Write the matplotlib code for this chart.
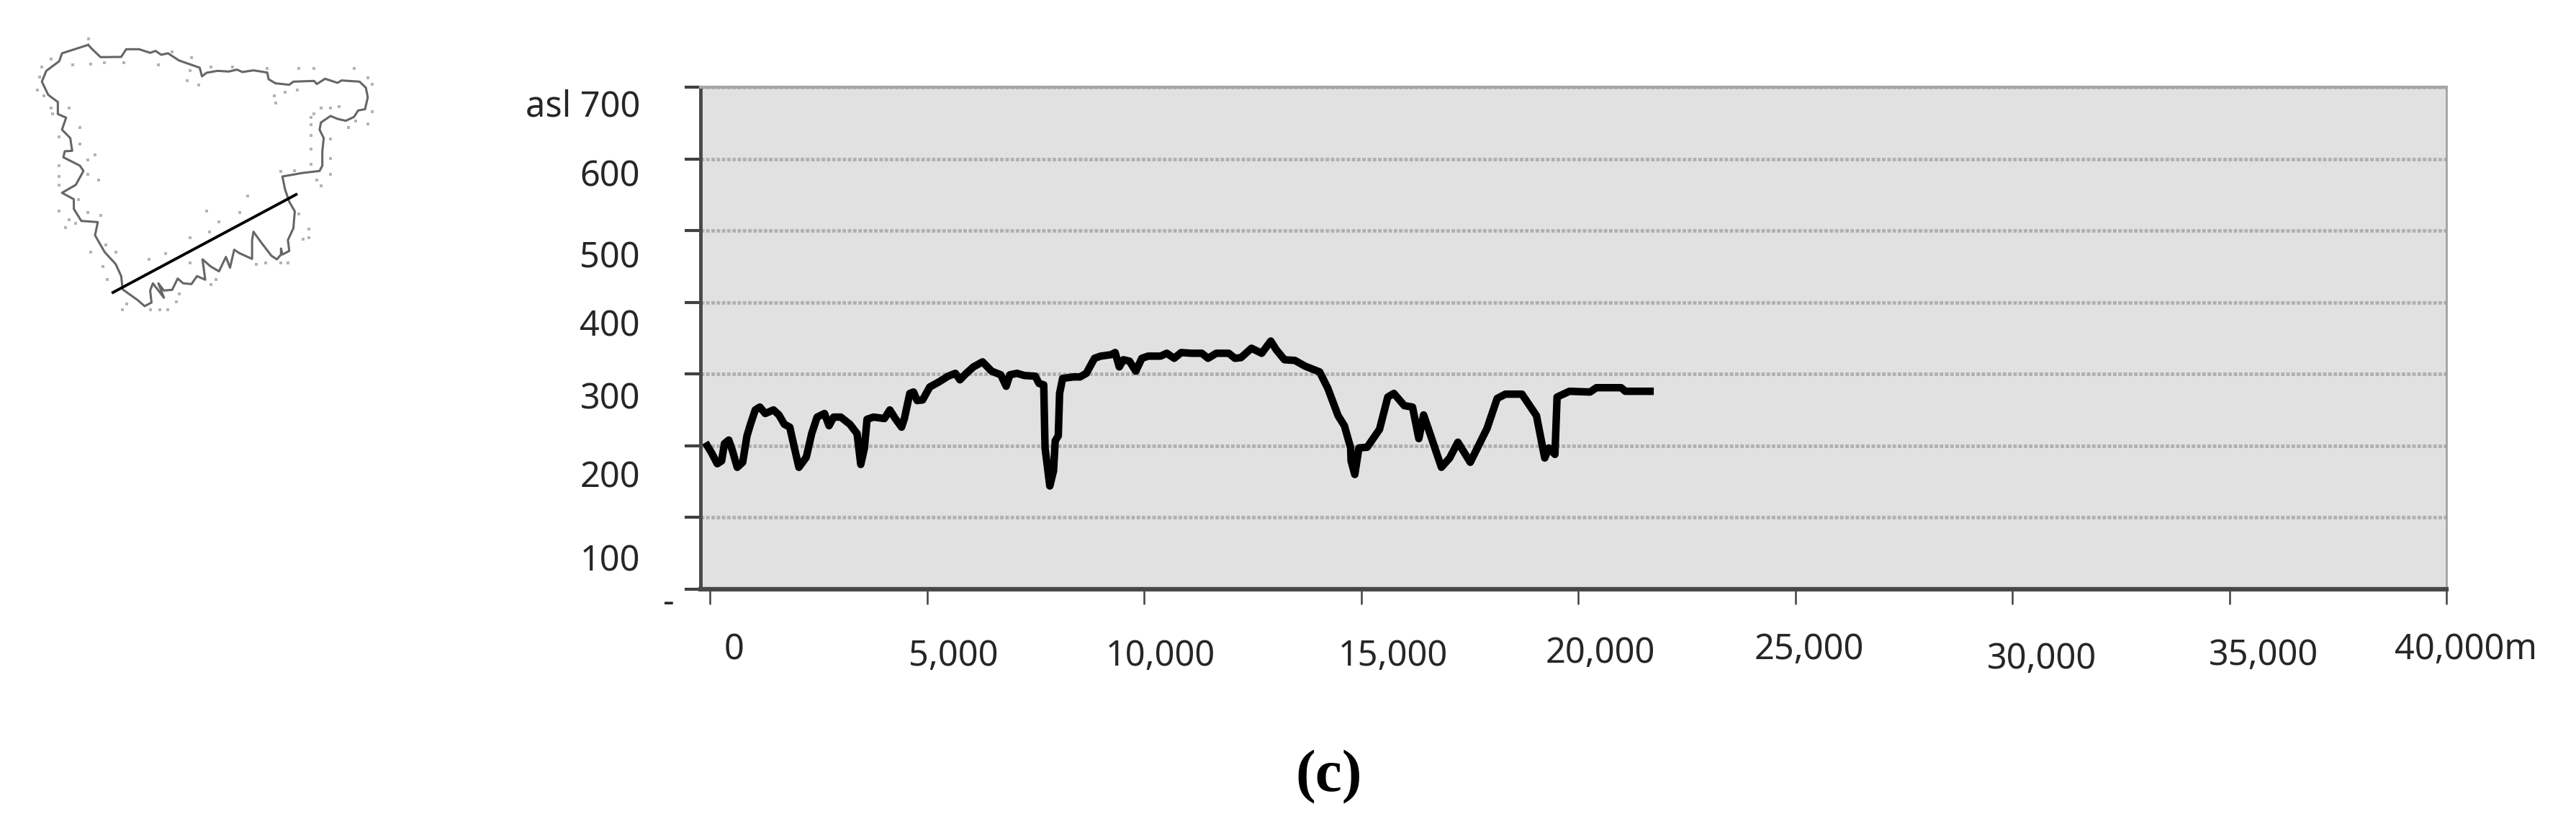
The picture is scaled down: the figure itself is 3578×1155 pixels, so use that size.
import matplotlib
matplotlib.use("Agg")
import matplotlib.pyplot as plt

W, H = 3578, 1155

# profile: distance (m) and elevation (m asl)
distance = [-60, 40, 170, 270, 335, 435, 520, 630, 755, 855, 940, 1045, 1150, 1275, 1465, 1590,
            1715, 1840, 1925, 2050, 2220, 2345, 2470, 2640, 2745, 2850, 3015, 3225, 3390, 3475,
            3560, 3620, 3770, 4020, 4145, 4270, 4415, 4480, 4605, 4690, 4775, 4900, 5065, 5275,
            5485, 5655, 5760, 5905, 6070, 6280, 6490, 6700, 6825, 6910, 7075, 7245, 7495, 7580,
            7690, 7720, 7830, 7915, 7955, 8025, 8055, 8125, 8375, 8525, 8670, 8860, 9000, 9240,
            9335, 9430, 9525, 9665, 9810, 9950, 10095, 10380, 10525, 10695, 10855, 11095, 11330,
            11475, 11665, 11950, 12095, 12235, 12475, 12710, 12920, 13045, 13235, 13475, 13710,
            14045, 14235, 14470, 14615, 14760, 14770, 14855, 14950, 15140, 15425, 15615, 15755,
            15995, 16185, 16330, 16440, 16565, 16850, 17040, 17230, 17515, 17900, 18135, 18325,
            18705, 19040, 19230, 19325, 19465, 19515, 19800, 20275, 20420, 20990, 21085, 21655]
elevation = [200, 190, 175, 179, 203, 208, 193, 170, 177, 214, 231, 250, 254, 245, 250, 243,
             230, 226, 203, 170, 184, 217, 240, 245, 228, 240, 240, 230, 217, 174,
             197, 237, 240, 238, 250, 238, 226, 238, 273, 275, 263, 264, 282, 289,
             297, 301, 292, 301, 310, 317, 304, 299, 283, 299, 301, 298, 297, 287,
             285, 197, 144, 165, 207, 214, 273, 294, 296, 296, 301, 322, 325, 327,
             330, 310, 320, 318, 304, 322, 325, 325, 329, 322, 330, 329, 329,
             322, 329, 329, 322, 323, 336, 329, 346, 334, 320, 319, 311,
             303, 280, 242, 228, 197, 179, 160, 197, 198, 223, 268, 273,
             256, 254, 210, 243, 221, 170, 183, 205, 177, 224, 266, 272,
             272, 242, 183, 197, 188, 268, 276, 275, 281, 281, 276, 276]

x_ticks = [0, 5000, 10000, 15000, 20000, 25000, 30000, 35000, 40000]
x_labels = ["0", "5,000", "10,000", "15,000", "20,000", "25,000", "30,000", "35,000", "40,000m"]
y_ticks = [700, 600, 500, 400, 300, 200, 100, 0]
y_labels = ["asl 700", "600", "500", "400", "300", "200", "100", "-"]

# the labels sit off their ticks in the original (pixels)
x_label_dx = [34, 37, 23, 44, 31, 19, 41, 47, 27]
x_label_dy = [81, 89, 89, 89, 85, 80, 93, 88, 80]
y_label_dx = [-84, -84, -84, -84, -84, -84, -84, -36]
y_label_dy = [24, 21, 34, 30, 31, 41, 57, 15]

# little map, in zoomed crop units
outline_x = [320, 335, 365, 440, 458, 505, 545, 565, 585, 610, 650, 725, 733, 750, 790, 830, 860, 880,
             920, 970, 975, 1000, 1050, 1065, 1140, 1150, 1180, 1225, 1240, 1305, 1328, 1335, 1325,
             1300, 1285, 1255, 1225, 1200, 1165, 1160, 1175, 1170, 1170, 1160, 1100, 1025, 1035, 1050,
             1070, 1065, 1045, 1050, 1025, 1020, 1020, 1005, 985, 945, 920, 915, 915, 870, 850, 835,
             820, 795, 765, 735, 745, 715, 695, 665, 645, 625, 595, 575, 595, 555, 545, 550, 525, 500,
             445, 440, 420, 380, 345, 355, 295, 268, 268, 225, 275, 303, 290, 230, 235, 262, 255, 225,
             240, 210, 210, 175, 152, 168, 215, 225, 320]
outline_y = [187, 205, 238, 237, 205, 205, 220, 212, 228, 222, 252, 282, 318, 303, 295, 298, 290, 300,
             293, 302, 330, 347, 353, 340, 337, 350, 328, 345, 335, 340, 365, 405, 455,
             460, 487, 503, 495, 483, 510, 540, 575, 630, 690, 712, 720, 735, 790, 840,
             880, 950, 1000, 1045, 1060, 1035, 1060, 1080, 1065, 1005, 965, 1000, 1078, 1055, 1040, 1115,
             1070, 1130, 1110, 1080, 1165, 1150, 1183, 1180, 1160, 1207, 1210, 1180, 1240, 1180, 1210, 1260, 1275, 1250,
             1205, 1150, 1100, 1050, 980, 925, 920, 870, 830, 803, 770, 712, 690, 655, 630, 628, 575, 540,
             490, 475, 425, 395, 340, 295, 255, 222, 187]
dots_x = [322, 185, 152, 145, 135, 160, 185, 250, 190, 290, 215, 290, 345, 320, 215, 320, 215, 215, 358, 285,
          215, 320, 365, 250, 275, 238, 330, 385, 420, 375, 390, 460, 445, 545, 610, 580, 640, 650, 765, 785,
          930, 965, 1020, 1045, 1120, 1120, 1085, 1100, 900, 750, 870, 795, 690, 760, 540, 690, 600, 1130, 1130,
          1130, 1130, 1200, 1200, 1200, 1150, 1165, 1130, 1020, 1070, 1000, 995, 1080, 1035, 720, 680, 690, 625,
          695, 575, 450, 380, 330, 265, 765, 845, 970, 1085, 1140, 1285, 1335, 1350, 1350, 1335, 1290, 1265, 1200,
          1165, 1140, 1230]
dots_y = [163, 245, 280, 320, 375, 400, 450, 450, 475, 530, 570, 600, 645, 665, 690, 725, 735, 770, 750, 830,
          880, 885, 898, 915, 930, 947, 1050, 1020, 1050, 1110, 1165, 1265, 1290, 1290, 1290, 1290, 1258, 1225, 1185, 1165,
          1100, 1095, 1095, 1095, 990, 955, 890, 995, 815, 880, 885, 925, 990, 965, 1080, 1095, 1055, 490, 520,
          565, 620, 580, 660, 725, 750, 775, 685, 715, 710, 430, 400, 375, 385, 355, 335, 295, 215,
          240, 270, 262, 262, 268, 270, 280, 280, 285, 285, 285, 285, 325, 350, 465, 515, 505, 530, 450,
          450, 475, 445]
section_x = [410, 1075]
section_y = [1218, 810]

fig = plt.figure(figsize=(W / 100, H / 100), dpi=100, facecolor="white")
font = "Noto Sans"

# main profile chart
ax = fig.add_axes([973 / W, (H - 818) / H, (3398 - 973) / W, (818 - 121) / H])
ax.set_facecolor("#e1e1e1")
ax.set_xlim(-216, 40000)
ax.set_ylim(0, 700)
ax.set_xticks(x_ticks)
ax.set_yticks(y_ticks)
ax.set_xticklabels([])
ax.set_yticklabels([])
ax.tick_params(axis="x", length=15, width=1.8, color="#404040")
ax.tick_params(axis="y", length=16, width=3, color="#404040")
ax.yaxis.grid(True, color="#b0b0b0", linestyle=(0, (1, 0.5)), linewidth=3.5)
ax.set_axisbelow(True)
ax.spines["left"].set(color="#484848", linewidth=3.5)
ax.spines["bottom"].set(color="#484848", linewidth=4.5)
ax.spines["top"].set(color="#a6a6a6", linewidth=3)
ax.spines["right"].set(color="#9a9a9a", linewidth=1.8)

ax.plot(distance, elevation, color="black", linewidth=7.5, solid_joinstyle="round")

for v, txt, dx, dy in zip(x_ticks, x_labels, x_label_dx, x_label_dy):
    ax.annotate(txt, xy=(v, 0), xytext=(dx, -dy - 17), textcoords="offset pixels",
                ha="center", va="baseline", fontsize=35, family=font, color="#262626")
for v, txt, dx, dy in zip(y_ticks, y_labels, y_label_dx, y_label_dy):
    ax.annotate(txt, xy=(0, v), xycoords=ax.get_yaxis_transform(), xytext=(dx, -dy - 17),
                textcoords="offset pixels", ha="right", va="baseline", fontsize=35,
                family=font, color="#262626", annotation_clip=False)

# locator map top left
mp = fig.add_axes([0, (H - 480) / H, 600 / W, 480 / H])
mp.set_xlim(0, 1568)
mp.set_ylim(1440, 0)
mp.axis("off")
mp.scatter(dots_x, dots_y, s=5, color="#b4b4b4", marker="s", linewidths=0)
mp.plot(outline_x, outline_y, color="#666666", linewidth=2.2)
mp.plot(section_x, section_y, color="black", linewidth=2.8)

fig.text(1846 / W, (H - 1079) / H, "(c)", ha="center", va="center", fontsize=60,
         family="Liberation Serif", fontweight="bold", color="black")

fig.savefig("out.png", dpi=100)
